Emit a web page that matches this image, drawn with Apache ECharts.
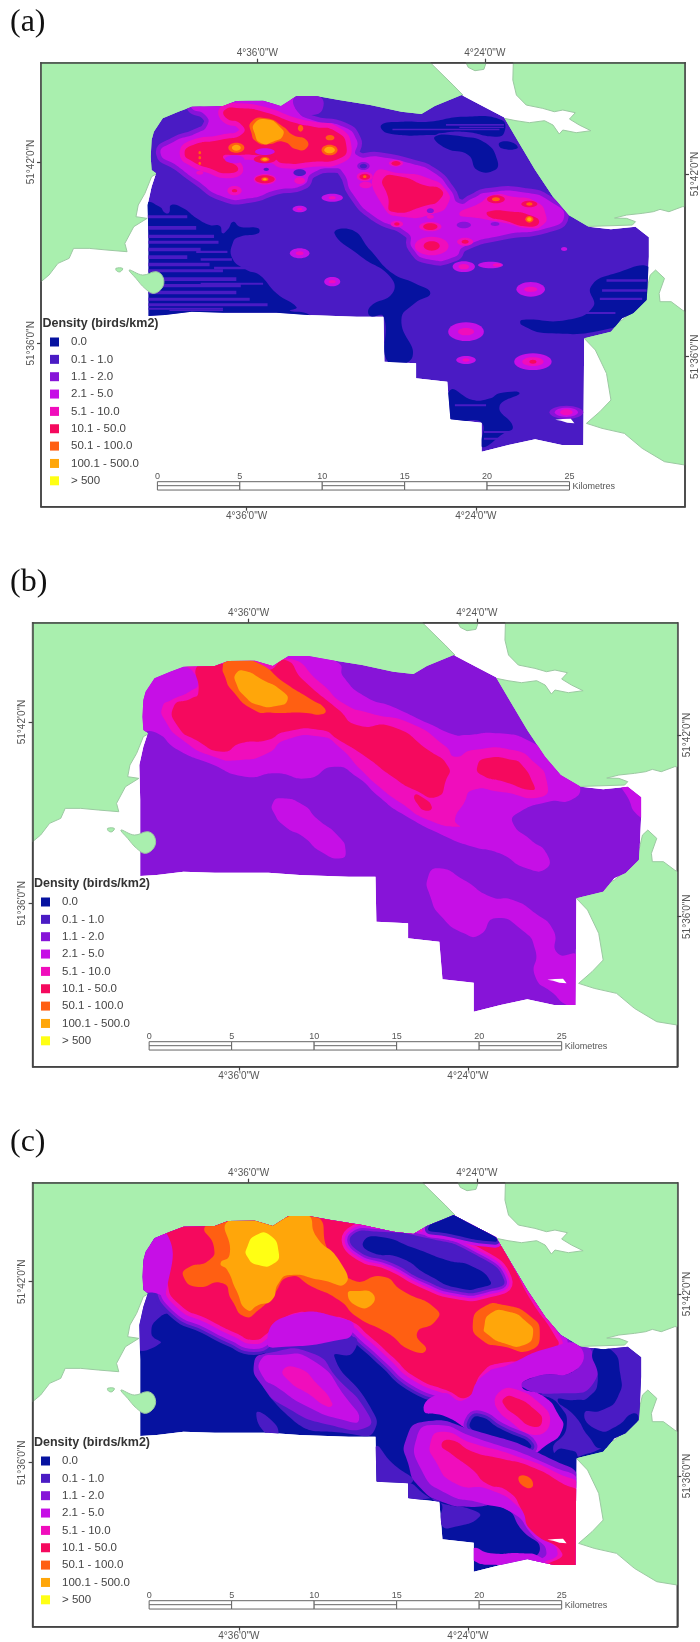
<!DOCTYPE html>
<html><head><meta charset="utf-8">
<style>html,body{margin:0;padding:0;background:#fff}#c{width:700px;height:1642px;filter:blur(0.5px)}</style>
<script src="https://cdn.jsdelivr.net/npm/echarts@6/dist/echarts.min.js"></script>
</head><body><div id="c"></div>
<script>
// Density classes
const classNames=['0.0','0.1 - 1.0','1.1 - 2.0','2.1 - 5.0','5.1 - 10.0','10.1 - 50.0','50.1 - 100.0','100.1 - 500.0','> 500'];
const classColors=['#0612a0','#4a1bc4','#8714d8','#c60fe6','#f00dbc','#f5095e','#ff5f12','#ffa60a','#ffff14'];
const LAND='#a9efae';
const legendTitle='Density (birds/km2)';
// Graticule tick labels
const lonLabels=['4°36\'0"W','4°24\'0"W'];
const latLabels=['51°42\'0"N','51°36\'0"N'];
const scaleKm=[0,5,10,15,20,25];
// Shared geography, in map units of panel (a)
const landNorth=[[92,188],[965,188],[1016,255],[1038,285],[1000,330],[800,500],[400,520],[358,516],[340,530],[325,580],[310,615],[305,650],[330,655],[300,680],[280,730],[285,755],[240,750],[200,745],[165,745],[155,775],[130,790],[110,825],[92,845]];
const landNorthIsle=[[1045,188],[1090,188],[1085,208],[1065,212],[1050,202]];
const landEast=[[1151,188],[1150,240],[1158,285],[1180,315],[1217,325],[1243,335],[1262,330],[1290,338],[1277,357],[1299,375],[1325,392],[1292,398],[1262,390],[1254,402],[1240,375],[1221,362],[1187,368],[1157,362],[1131,355],[1150,500],[1300,680],[1418,675],[1425,665],[1405,655],[1378,654],[1405,645],[1440,640],[1465,635],[1480,628],[1500,635],[1530,620],[1536,620],[1536,188]];
const landSouth=[[1470,810],[1490,835],[1478,880],[1480,905],[1505,905],[1530,930],[1536,935],[1536,1395],[1490,1385],[1440,1345],[1400,1300],[1350,1285],[1315,1270],[1345,1235],[1370,1200],[1360,1120],[1335,1050],[1310,1015],[1395,960],[1440,910],[1452,860],[1458,825]];
const isle=[[290,810],[320,825],[350,815],[365,830],[365,860],[345,880],[325,865],[305,835]];
const islet=[[260,805],[275,805],[270,815],[262,813]];
const survey=[[340,420],[345,395],[365,355],[400,335],[430,320],[500,318],[530,303],[590,302],[630,318],[665,288],[710,288],[760,300],[830,315],[900,335],[945,342],[975,318],[1035,285],[1070,310],[1130,352],[1160,420],[1200,510],[1240,590],[1275,645],[1320,680],[1370,688],[1425,680],[1455,712],[1455,770],[1452,860],[1450,900],[1420,940],[1395,955],[1370,995],[1310,1015],[1308,1335],[1260,1335],[1200,1318],[1140,1335],[1080,1355],[1080,1268],[1010,1258],[1003,1145],[933,1135],[933,1090],[862,1085],[860,950],[800,950],[690,945],[620,938],[500,938],[430,935],[370,945],[333,948],[333,720],[331,615],[340,560],[350,520],[340,510],[338,470]];
const surveyHole=[[1245,1259],[1262,1257],[1280,1256],[1288,1270],[1272,1268],[1258,1262]];

// Panel (a): [class, points, rims]
const darkA=[
 [0,[[855,375],[900,365],[960,365],[1040,350],[1125,360],[1130,400],[1110,410],[1040,395],[985,400],[975,405],[870,400]]],
 [0,[[975,410],[1040,410],[1090,430],[1115,480],[1110,510],[1070,510],[1050,465],[1000,445]]],
 [0,[[1120,428],[1150,428],[1160,445],[1125,445]]],
 [0,[[330,612],[358,620],[370,638],[379,638],[384,615],[411,625],[441,655],[470,675],[493,678],[499,700],[511,688],[523,665],[538,680],[579,685],[579,700],[538,710],[523,725],[521,775],[553,810],[582,825],[620,880],[665,922],[650,932],[687,940],[700,960],[320,960]]],
 [0,[[750,700],[790,690],[830,750],[880,820],[930,850],[965,880],[930,910],[900,960],[925,1070],[870,1085],[860,950],[830,948],[830,920],[880,880],[875,830],[810,770]]],
 [0,[[1325,860],[1380,820],[1460,805],[1460,900],[1420,940],[1370,985],[1230,1000],[1170,975],[1170,960],[1270,960],[1330,920]]],
 [0,[[1010,1170],[1060,1200],[1100,1195],[1120,1180],[1165,1180],[1120,1220],[1150,1280],[1130,1300],[1080,1340],[1080,1268],[1010,1258]]]
];
// Panel (a) streaks of the 0.1-1.0 class: [x0, x1, y, height]
const streaksA=[[325,420,646,9],[325,440,678,11],[325,480,704,10],[325,490,722,9],[325,450,743,11],[440,510,752,7],[325,420,766,11],[450,520,775,7],[325,470,788,11],[325,500,808,9],[480,560,800,8],[325,530,832,11],[325,540,852,10],[325,530,872,11],[330,560,893,9],[330,600,910,9],[330,500,923,6],[450,590,848,6],[380,500,929,4],
 [880,1120,386,5],[1000,1130,372,5],[1030,1130,380,4],[1360,1450,838,7],[1350,1450,868,7],[1345,1440,893,7],[1290,1380,936,6],[1085,1150,1293,6],[1085,1130,1313,6],[1020,1090,1213,6]];
const hotA=[
 [3,[[440,310],[500,300],[620,300],[640,285],[660,290],[665,330],[700,360],[770,380],[800,420],[800,465],[850,470],[920,490],[975,520],[1010,570],[1030,610],[1060,595],[1090,578],[1180,578],[1235,605],[1265,650],[1225,685],[1130,705],[1040,740],[1020,770],[960,778],[925,745],[915,700],[840,650],[790,580],[770,520],[750,505],[700,520],[680,555],[620,570],[560,595],[500,590],[440,540],[400,500],[360,460],[390,425],[440,400],[465,375],[460,345],[430,325]],[[2,9]]],
 [2,[[665,285],[710,285],[725,320],[700,345],[665,330]]],
 [5,[[504,330],[538,325],[590,335],[665,370],[702,380],[754,395],[777,440],[762,475],[702,485],[635,490],[612,475],[567,465],[538,465],[500,470],[534,505],[508,520],[470,505],[433,485],[414,460],[433,435],[493,420],[545,400],[538,370],[508,355]],[[4,10]]],
 [6,[[564,365],[597,355],[635,380],[657,405],[687,420],[687,445],[665,448],[635,425],[601,433],[575,425],[564,400]]],
 [7,[[571,370],[597,358],[627,380],[635,405],[612,425],[586,430],[571,400]]],
 [4,[[840,520],[900,520],[960,535],[1000,570],[1005,610],[975,640],[900,650],[860,620]]],
 [5,[[860,535],[900,530],[950,555],[990,570],[985,600],[960,615],[880,635],[870,590]]],
 [4,[[1030,642],[1075,610],[1105,585],[1150,590],[1202,605],[1224,645],[1217,675],[1187,685],[1135,670],[1075,655]]],
 [5,[[1094,635],[1150,635],[1187,645],[1209,665],[1187,680],[1127,660],[1097,650]]]
];
// Panel (a) spots: [class, cx, cy, rx, ry]
const spotsA=[
 [3,1045,995,40,28],[4,1045,995,18,11],[3,1195,1085,42,25],[4,1195,1085,24,13],[5,1195,1085,8,6],[3,1045,1080,22,12],[4,1045,1080,8,5],[3,1190,868,32,22],[4,1190,868,15,8],
 [3,672,760,22,15],[4,672,760,9,6],[3,745,845,18,14],[4,745,845,8,5],[3,745,593,24,12],[4,745,593,8,5],[3,672,627,16,10],[4,672,627,6,4],[3,1265,747,7,6],
 [2,1270,1237,38,20],[3,1270,1237,26,14],[4,1270,1237,14,9],[3,1040,800,25,16],[4,1040,800,12,8],[3,1100,795,28,10],[4,1115,795,10,5],
 [3,594,455,22,10],[3,526,478,22,12],[1,672,518,14,10],[2,815,498,14,12],[1,815,498,8,7],[1,597,508,6,5],
 [4,594,538,25,16],[5,594,538,22,12],[6,594,538,8,6],[7,594,538,4,3],[4,526,572,16,14],[5,526,572,6,5],[4,672,542,12,10],[4,448,518,8,6],
 [5,594,478,25,12],[6,594,478,10,7],[7,594,478,6,4],[6,530,443,18,15],[7,530,443,10,9],[6,739,450,18,16],[7,739,450,12,10],[6,740,413,10,8],[6,674,385,6,10],
 [6,448,458,3,5],[6,448,473,3,5],[6,448,490,3,5],
 [4,818,530,18,14],[5,818,530,12,9],[6,818,530,4,4],[4,888,490,16,10],[5,888,490,10,7],[4,820,555,14,10],
 [4,965,680,25,14],[5,965,680,16,10],[4,890,672,14,10],[5,890,672,6,5],[4,965,650,8,6],[4,968,738,38,28],[5,968,738,18,14],[4,1043,725,18,12],[5,1043,725,8,6],[2,965,632,8,7],[2,1040,675,16,10],
 [5,1112,598,20,12],[6,1112,598,9,6],[5,1187,612,18,10],[6,1187,612,7,5],[6,1187,658,9,10],[7,1187,658,5,6],[2,1110,672,10,6]
];
// Panel (b), in its own map units
const contoursB=[
 [3,[[300,340],[400,300],[640,285],[700,285],[760,310],[770,350],[820,410],[880,440],[960,490],[1020,525],[1040,525],[1120,520],[1190,545],[1230,590],[1270,650],[1300,680],[1280,720],[1230,725],[1160,760],[1150,790],[1190,840],[1225,880],[1225,925],[1180,925],[1120,880],[1060,860],[1000,830],[900,760],[850,710],[800,650],[750,620],[690,655],[620,640],[550,650],[470,610],[400,570],[345,515],[300,520]]],
 [3,[[612,730],[630,715],[680,735],[710,775],[760,830],[775,870],[765,895],[720,875],[680,830],[640,800],[615,760]]],
 [3,[[960,950],[985,925],[1040,960],[1100,1010],[1150,1020],[1200,1060],[1240,1110],[1250,1180],[1295,1190],[1295,1340],[1270,1335],[1240,1300],[1200,1250],[1200,1170],[1170,1110],[1110,1075],[1075,1125],[1040,1120],[990,1070],[965,1010]]],
 [3,[[1395,675],[1445,700],[1445,770],[1425,760],[1410,720]]],
 [4,[[385,420],[425,395],[445,370],[430,330],[415,315],[640,295],[720,370],[770,430],[830,460],[920,490],[1000,560],[1020,590],[1060,570],[1150,570],[1200,610],[1225,660],[1215,710],[1120,695],[1060,690],[1040,730],[1020,780],[1030,800],[960,780],[900,730],[850,680],[810,630],[760,560],[720,530],[640,540],[600,580],[540,600],[480,590],[410,540],[370,480],[365,440]]],
 [5,[[390,440],[430,415],[445,400],[445,315],[500,312],[600,330],[640,300],[680,360],[760,450],[800,495],[880,500],[960,570],[1005,620],[1000,660],[980,710],[930,690],[880,650],[820,590],[760,540],[720,510],[640,515],[600,540],[540,550],[500,575],[440,540],[400,500]]],
 [5,[[1070,620],[1090,595],[1150,600],[1170,615],[1195,670],[1195,690],[1130,665],[1080,645]]],
 [5,[[930,705],[945,710],[968,740],[955,752],[935,730]]],
 [6,[[500,320],[510,298],[530,298],[580,310],[640,370],[700,420],[728,445],[725,462],[680,458],[610,458],[570,450],[520,390],[505,350]]],
 [7,[[530,340],[550,333],[590,360],[630,390],[645,420],[620,438],[580,435],[550,410],[530,370]]]
];
// Panel (c), in its own map units
const contoursC=[
 [1,[[300,560],[345,515],[400,570],[360,590],[340,640],[360,670],[300,680]]],
 [5,[[372,375],[372,330],[415,312],[650,280],[760,295],[850,320],[950,338],[1110,355],[1150,440],[1190,540],[1245,650],[1250,680],[1220,720],[1120,730],[1080,760],[1050,830],[1000,810],[930,770],[880,710],[830,650],[780,600],[720,590],[660,580],[600,640],[570,660],[530,640],[470,600],[400,550],[375,480]],[[1,30],[2,24],[3,18],[4,8]]],
 [3,[[300,360],[372,335],[372,520],[345,518],[300,510]]],
 [1,[[600,690],[790,650],[790,700],[750,710],[830,860],[840,930],[800,945],[640,880]]],
 [1,[[575,880],[600,890],[625,940],[600,945]]],
 [2,[[570,730],[600,700],[700,700],[760,780],[820,870],[825,920],[740,915],[640,860],[590,800]]],
 [3,[[585,720],[620,705],[700,720],[780,840],[805,900],[770,900],[690,860],[620,800],[590,770]]],
 [4,[[635,750],[670,745],[710,790],[745,850],[735,860],[690,820],[650,785]]],
 [3,[[600,670],[640,590],[780,600],[790,640],[760,660],[640,680]]],
 [1,[[842,980],[880,1030],[925,1085],[845,1085]]],
 [1,[[1320,685],[1445,690],[1445,900],[1400,950],[1360,975],[1340,990],[1320,1000],[1280,1010],[1240,990],[1270,920],[1250,850],[1215,820],[1300,790],[1320,730]]],
 [2,[[1285,690],[1325,690],[1330,790],[1260,820],[1170,800],[1200,770],[1290,750]]],
 [3,[[990,820],[1040,840],[1080,770],[1130,740],[1240,680],[1300,680],[1290,750],[1200,770],[1170,800],[1220,830],[1250,880],[1260,930],[1220,980],[1190,1000],[1120,990],[1050,930],[1000,890],[950,870]]],
 [0,[[1330,690],[1370,690],[1390,760],[1385,830],[1350,870],[1310,880],[1340,930],[1380,920],[1420,880],[1430,900],[1400,950],[1350,985],[1320,950],[1290,890],[1250,840],[1290,840],[1320,830],[1340,780]]],
 [5,[[1130,835],[1150,830],[1200,870],[1215,905],[1195,920],[1155,885],[1130,855]],[[4,16]]],
 [0,[[1055,905],[1075,890],[1120,925],[1190,975],[1150,990],[1100,960],[1060,930]],[[2,12],[1,6]]],
 [0,[[1245,995],[1275,990],[1295,1010],[1295,1100],[1250,1085],[1240,1040]]],
 [1,[[915,1090],[960,1130],[990,1150],[1060,1170],[1075,1190],[1020,1220],[990,1215],[985,1145],[915,1135]]],
 [2,[[910,960],[950,905],[1060,930],[1240,1020],[1300,1090],[1300,1340],[1160,1340],[1210,1290],[1170,1230],[1130,1165],[1050,1160],[1000,1150],[940,1100],[915,1030]]],
 [3,[[935,950],[975,915],[1060,950],[1240,1040],[1300,1100],[1300,1340],[1190,1330],[1225,1300],[1190,1240],[1150,1180],[1080,1150],[1000,1120],[945,1050]]],
 [4,[[965,970],[990,935],[1060,970],[1150,1005],[1250,1060],[1300,1110],[1300,1340],[1215,1330],[1250,1300],[1210,1240],[1170,1170],[1100,1110],[1020,1090],[975,1020]]],
 [5,[[990,975],[1010,960],[1060,995],[1120,1015],[1190,1040],[1260,1090],[1300,1130],[1300,1340],[1230,1335],[1260,1300],[1190,1230],[1170,1170],[1140,1115],[1090,1090],[1060,1050],[1010,1000]]],
 [6,[[1162,1075],[1180,1068],[1195,1095],[1180,1103]]],
 [3,[[1060,1285],[1100,1300],[1170,1300],[1210,1310],[1220,1335],[1120,1335],[1060,1320]]],
 [1,[[790,345],[850,335],[960,355],[1060,400],[1130,480],[1090,510],[1030,515],[950,480],[880,430],[800,390]],[[4,16],[3,10],[2,5]]],
 [0,[[815,365],[850,350],[930,385],[1000,420],[1060,440],[1100,485],[1085,500],[1030,505],[960,465],[900,415],[830,395]]],
 [0,[[960,325],[1015,285],[1110,350],[1110,365],[1000,340]],[[3,12],[1,6]]],
 [6,[[412,470],[420,445],[470,420],[480,380],[460,320],[510,305],[700,285],[740,400],[790,480],[860,470],[900,510],[980,570],[975,605],[935,640],[955,690],[920,690],[870,640],[800,590],[760,540],[700,500],[650,470],[610,530],[580,570],[550,590],[520,540],[500,490],[440,500]]],
 [7,[[495,430],[515,405],[515,300],[640,293],[660,280],[690,280],[710,350],[760,420],[775,490],[720,480],[650,465],[625,490],[610,540],[580,555],[555,570],[530,510],[510,450]]],
 [8,[[555,380],[575,345],[605,345],[625,395],[615,430],[580,435],[555,410]]],
 [7,[[780,520],[800,513],[835,520],[833,555],[800,558]]],
 [6,[[1060,610],[1085,560],[1130,555],[1190,590],[1210,640],[1190,690],[1130,680],[1080,660]]],
 [7,[[1085,625],[1100,580],[1140,575],[1180,605],[1195,640],[1175,675],[1130,670],[1090,640]]]
];

const shift=(pts,dx)=>pts.map(p=>[p[0]+dx,p[1]]);
const W=644.7,H=444;
const panels=[
 {label:'(a)',left:41,top:62.7,dx:0,base:1,xMin:92,xMax:1536,scaleDy:0,legendLeft:50,legendTop:335,titleLeft:42.5,titleTop:317,
  topTicks:[577,1087],bottomTicks:[553,1067],leftTicks:[486,1030],rightTicks:[522,1070],contours:[],spots:spotsA},
 {label:'(b)',left:32.6,top:622.7,dx:-18,base:2,xMin:74,xMax:1518,scaleDy:0,legendLeft:41,legendTop:895,titleLeft:34,titleTop:877,
  topTicks:[558,1069],bottomTicks:[536,1049],leftTicks:[486,1030],rightTicks:[525,1070],contours:contoursB,spots:[]},
 {label:'(c)',left:32.6,top:1182.7,dx:-18,base:0,xMin:74,xMax:1518,scaleDy:-3,legendLeft:41,legendTop:1454,titleLeft:34,titleTop:1436,
  topTicks:[558,1069],bottomTicks:[536,1049],leftTicks:[485,1028],rightTicks:[522,1068],contours:contoursC,spots:[]}
];

const grid=[],xAxis=[],yAxis=[],series=[],title=[],legend=[];
const axisCommon={type:'value',z:20,splitLine:{show:false},axisLine:{onZero:false,lineStyle:{color:'#444',width:1.5}}};
function tickAxis(values,labels,rotate,margin){
  return {
    axisTick:{show:true,length:4,customValues:values,lineStyle:{color:'#444',width:1.2},inside:false},
    axisLabel:{show:true,customValues:values,rotate:rotate,margin:margin,fontSize:10,color:'#555',fontFamily:'Liberation Sans',
      formatter:v=>labels[values.indexOf(v)]||''}
  };
}
panels.forEach((p,pi)=>{
  grid.push({left:p.left,top:p.top,width:W,height:H,show:true,backgroundColor:'#fff',borderColor:'#444',borderWidth:1.5});
  xAxis.push(Object.assign({gridIndex:pi,position:'bottom',min:p.xMin,max:p.xMax},axisCommon,tickAxis(p.bottomTicks,lonLabels,0,5)));
  xAxis.push(Object.assign({gridIndex:pi,position:'top',min:p.xMin,max:p.xMax},axisCommon,tickAxis(p.topTicks,lonLabels,0,4)));
  yAxis.push(Object.assign({gridIndex:pi,position:'left',inverse:true,min:188,max:1520},axisCommon,tickAxis(p.leftTicks,latLabels,90,5)));
  yAxis.push(Object.assign({gridIndex:pi,position:'right',inverse:true,min:188,max:1520},axisCommon,tickAxis(p.rightTicks,latLabels,90,5)));
  title.push({text:p.label,left:10,top:p.top-62.7+7,padding:0,textStyle:{fontFamily:'Liberation Serif',fontSize:32,fontWeight:'normal',color:'#111'}});
  title.push({text:legendTitle,left:p.titleLeft,top:p.titleTop,padding:0,textStyle:{fontFamily:'Liberation Sans',fontSize:12.5,fontWeight:'bold',color:'#333'}});
  legend.push({left:p.legendLeft,top:p.legendTop,orient:'vertical',icon:'rect',itemWidth:9,itemHeight:9,itemGap:3.35,selectedMode:false,padding:0,
    textStyle:{fontSize:11.5,color:'#444',fontFamily:'Liberation Sans',lineHeight:14,padding:[0,0,0,7]},
    data:classNames.map((n,i)=>({name:n,icon:'rect',itemStyle:{color:classColors[i]}}))});

  // Build the draw list; z2 keeps the contour nesting across per-class series
  const items=[];let z=10;
  const surveyPts=shift(survey,p.dx);
  const poly=(cls,pts,rims,smooth)=>{
    (rims||[]).forEach(r=>items.push({cls:cls,pts:pts,z2:z++,clip:true,stroke:classColors[r[0]],lw:r[1],smooth:smooth}));
    items.push({cls:cls,pts:pts,z2:z++,clip:true,fill:classColors[cls],smooth:smooth});
  };
  poly(p.base,surveyPts,null,0);
  if(pi===0){
    darkA.forEach(c=>poly(c[0],c[1],c[2],0.5));
    streaksA.forEach(s=>poly(1,[[s[0],s[2]],[s[1],s[2]],[s[1],s[2]+s[3]],[s[0],s[2]+s[3]]],null,0));
    hotA.forEach(c=>poly(c[0],c[1],c[2],0.6));
  }
  p.contours.forEach(c=>poly(c[0],c[1],c[2],0.6));
  p.spots.forEach(s=>items.push({cls:s[0],ell:s.slice(1),z2:z++,clip:true,fill:classColors[s[0]]}));

  const render=list=>(params,api)=>{
    const it=list[params.dataIndex];
    const clipPts=surveyPts.map(q=>api.coord(q));
    const style=it.fill?{fill:it.fill}:{fill:null,stroke:it.stroke,lineWidth:it.lw,lineJoin:'round'};
    if(it.ell){
      const c=api.coord([it.ell[0],it.ell[1]]),e=api.coord([it.ell[0]+it.ell[2],it.ell[1]+it.ell[3]]);
      return {type:'ellipse',z2:it.z2,shape:{cx:c[0],cy:c[1],rx:Math.abs(e[0]-c[0]),ry:Math.abs(e[1]-c[1])},style:style,
        clipPath:{type:'polygon',shape:{points:clipPts}}};
    }
    return {type:'polygon',z2:it.z2,shape:{points:it.pts.map(q=>api.coord(q)),smooth:it.smooth||0},style:style,
      clipPath:{type:'polygon',shape:{points:clipPts}}};
  };
  const ax={xAxisIndex:pi*2,yAxisIndex:pi*2};
  // land under the survey; the islands sit on top of it
  const landShapes=[landNorth,landNorthIsle,landEast,landSouth].map(s=>shift(s,p.dx));
  const landStyle={fill:LAND,stroke:'#9cc9a2',lineWidth:1};
  series.push(Object.assign({type:'custom',name:'Land',silent:true,animation:false,coordinateSystem:'cartesian2d',
    itemStyle:{color:LAND},data:landShapes.map((s,i)=>[i]),
    renderItem:(params,api)=>({type:'polygon',z2:1,shape:{points:landShapes[params.dataIndex].map(q=>api.coord(q))},style:landStyle})},ax));
  const islands=[isle,islet].map(s=>shift(s,p.dx));
  series.push(Object.assign({type:'custom',name:'Islands',silent:true,animation:false,coordinateSystem:'cartesian2d',
    itemStyle:{color:LAND},data:islands.map((s,i)=>[i]),
    renderItem:(params,api)=>({type:'polygon',z2:5000,shape:{points:islands[params.dataIndex].map(q=>api.coord(q)),smooth:0.4},style:landStyle})},ax));
  // one series per density class
  classNames.forEach((n,ci)=>{
    const list=items.filter(it=>it.cls===ci);
    series.push(Object.assign({type:'custom',name:n,silent:true,animation:false,coordinateSystem:'cartesian2d',
      itemStyle:{color:classColors[ci]},data:list.map((_,i)=>[i]),renderItem:render(list)},ax));
  });
  // small unsurveyed hole
  const hole=shift(surveyHole,p.dx);
  series.push(Object.assign({type:'custom',name:'Hole',silent:true,animation:false,coordinateSystem:'cartesian2d',
    data:[[0]],renderItem:(params,api)=>({type:'polygon',z2:5000,shape:{points:hole.map(q=>api.coord(q))},style:{fill:'#fff'}})},ax));
  // scale bar
  const x0=353+p.dx,unitsPerKm=36.96,yTop=1445+p.scaleDy,yBot=1470+p.scaleDy,yMid=1457+p.scaleDy,yLab=1430+p.scaleDy;
  series.push(Object.assign({type:'custom',name:'Scale',silent:true,animation:false,coordinateSystem:'cartesian2d',
    data:scaleKm.map(k=>[k]),renderItem:(params,api)=>{
      const km=scaleKm[params.dataIndex],i=params.dataIndex;
      const X=k=>x0+k*unitsPerKm;
      const lab=api.coord([X(km),yLab]);
      const children=[{type:'text',z2:5002,style:{text:String(km),x:lab[0],y:lab[1],align:'center',verticalAlign:'middle',fontSize:9,fontFamily:'Liberation Sans',fill:'#555'}}];
      if(i<scaleKm.length-1){
        const a=api.coord([X(km),yTop]),b=api.coord([X(km+5),yBot]);
        children.push({type:'rect',z2:5001,shape:{x:a[0],y:a[1],width:b[0]-a[0],height:b[1]-a[1]},style:{fill:'#fff',stroke:'#666',lineWidth:1}});
        if(i%2===0){const m=api.coord([X(km),yMid]);
          children.push({type:'line',z2:5002,shape:{x1:a[0],y1:m[1],x2:b[0],y2:m[1]},style:{stroke:'#666',lineWidth:1}});}
      } else {
        const t=api.coord([X(km)+7,yMid+3]);
        children.push({type:'text',z2:5002,style:{text:'Kilometres',x:t[0],y:t[1],align:'left',verticalAlign:'middle',fontSize:9,fontFamily:'Liberation Sans',fill:'#555'}});
      }
      return {type:'group',children:children};
    }},ax));
});
const chart=echarts.init(document.getElementById('c'),null,{renderer:'canvas'});
chart.setOption({animation:false,backgroundColor:'#fff',title:title,legend:legend,grid:grid,xAxis:xAxis,yAxis:yAxis,series:series});
</script></body></html>
